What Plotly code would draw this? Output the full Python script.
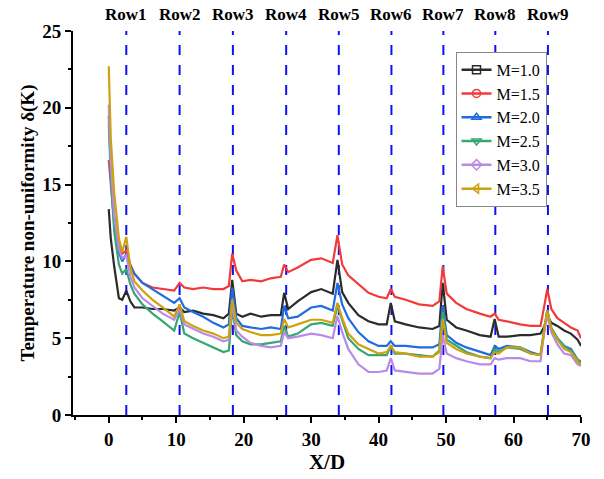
import plotly.graph_objects as go

# X/D sample positions (shared by all series)
x_pos = [0, 0.3, 0.8, 1.5, 2.0, 2.6, 3.2, 3.8, 5, 6.5, 8, 9.7, 10.5, 11.2, 12.5, 14, 15.5, 17,
         17.8, 18.3, 18.9, 19.8, 21, 22.6, 24, 25.5, 26.0, 26.6, 28, 30, 31.5, 33.2, 33.9, 34.6,
         35.5, 37, 38.5, 40, 41.2, 41.8, 42.4, 44, 46, 48, 49.0, 49.5, 50.1, 51.5, 53, 55, 56.6,
         57.2, 57.8, 59, 61, 62.5, 64, 64.6, 65.0, 65.6, 66.5, 67.5, 68.5, 69.5, 70]

m10 = [13.4, 11.5, 9.7, 7.6, 7.5, 8.1, 7.4, 7.0, 7.0, 6.9, 6.9, 6.8, 7.0, 6.7, 6.8, 6.6, 6.5, 6.3,
       6.6, 8.8, 6.6, 6.4, 6.6, 6.4, 6.5, 6.5, 7.95, 6.9, 7.4, 8.0, 8.2, 7.9, 10.1, 8.0,
       7.3, 6.5, 6.1, 5.9, 5.9, 7.3, 6.1, 5.9, 5.7, 5.6, 5.8, 8.6, 6.2, 5.7, 5.5, 5.2, 5.1,
       6.25, 5.1, 5.1, 5.2, 5.2, 5.3, 5.8, 6.46, 6.0, 5.8, 5.5, 5.3, 4.9, 4.5]
m15 = [16.6, 15.0, 12.5, 10.9, 10.5, 10.7, 9.8, 9.2, 8.6, 8.3, 8.2, 8.1, 8.6, 8.3, 8.2, 8.3, 8.2, 8.2,
       8.4, 10.5, 9.4, 8.7, 8.8, 8.7, 8.9, 9.0, 9.8, 9.3, 9.6, 10.1, 10.2, 9.9, 11.7, 9.8,
       9.1, 8.5, 7.95, 7.7, 7.6, 8.2, 7.7, 7.5, 7.2, 7.1, 7.4, 9.67, 7.9, 7.3, 6.9, 6.6, 6.4,
       6.6, 6.2, 6.1, 5.9, 5.8, 5.8, 7.2, 8.2, 6.9, 6.3, 6.0, 5.7, 5.5, 5.0]
m20 = [19.5, 16.0, 13.0, 10.6, 10.0, 10.5, 9.7, 9.2, 8.6, 8.2, 7.8, 7.3, 7.6, 7.0, 6.7, 6.4, 6.0, 5.7,
       5.9, 8.3, 6.3, 5.8, 5.7, 5.6, 5.7, 5.6, 7.1, 6.3, 6.4, 7.0, 7.1, 6.8, 8.6, 7.2,
       6.3, 5.4, 4.8, 4.5, 4.5, 4.8, 4.5, 4.5, 4.4, 4.4, 4.6, 7.1, 5.2, 4.7, 4.4, 4.1, 3.9,
       4.5, 4.3, 4.5, 4.4, 4.1, 3.9, 5.6, 6.8, 5.6, 5.0, 4.5, 4.3, 3.6, 3.4]
m25 = [19.0, 15.5, 12.0, 9.8, 9.2, 9.5, 8.5, 7.9, 7.2, 6.6, 6.1, 5.5, 6.7, 5.3, 5.0, 4.7, 4.4, 4.1,
       4.2, 6.9, 5.2, 4.8, 4.6, 4.6, 4.7, 4.8, 5.8, 5.1, 5.3, 5.9, 6.0, 5.8, 7.1, 6.2,
       5.0, 4.3, 3.9, 3.9, 3.9, 4.5, 4.0, 4.0, 3.9, 3.8, 4.2, 6.7, 4.9, 4.5, 4.1, 3.8, 3.7,
       4.3, 4.1, 4.4, 4.3, 4.0, 3.9, 5.8, 6.8, 5.7, 5.0, 4.5, 4.2, 3.6, 3.5]
m30 = [20.2, 16.5, 13.0, 10.8, 10.2, 10.4, 9.0, 8.3, 7.6, 7.1, 6.6, 6.2, 6.9, 5.9, 5.6, 5.3, 5.1, 4.8,
       4.9, 7.3, 5.5, 5.1, 4.7, 4.5, 4.4, 4.5, 5.4, 5.0, 5.1, 5.3, 5.2, 5.0, 6.46, 5.4,
       4.3, 3.3, 2.8, 2.8, 2.9, 3.7, 2.9, 2.8, 2.7, 2.7, 3.0, 5.2, 4.0, 3.7, 3.5, 3.3, 3.3,
       3.7, 3.6, 3.7, 3.7, 3.5, 3.5, 5.6, 6.46, 5.4, 4.6, 4.0, 3.9, 3.3, 3.2]
m35 = [22.7, 18.0, 14.5, 11.5, 10.6, 11.6, 9.6, 8.7, 8.1, 7.5, 7.0, 6.4, 7.2, 6.1, 5.8, 5.5, 5.3, 5.0,
       5.1, 7.5, 6.0, 5.6, 5.4, 5.2, 5.2, 5.3, 6.25, 5.7, 5.9, 6.2, 6.2, 6.0, 7.3, 6.3,
       5.3, 4.6, 4.3, 4.0, 4.1, 4.5, 4.1, 4.0, 3.8, 3.8, 4.1, 6.25, 4.7, 4.3, 4.0, 3.8, 3.7,
       4.1, 4.0, 4.4, 4.4, 4.0, 3.9, 5.8, 6.8, 5.6, 4.9, 4.3, 4.1, 3.5, 3.2]

series_names = ["M=1.0", "M=1.5", "M=2.0", "M=2.5", "M=3.0", "M=3.5"]
series_vals = [m10, m15, m20, m25, m30, m35]
colors = ["#2b2b2b", "#f23a3a", "#1f6be0", "#36a673", "#b98be8", "#cfa010"]
symbols = ["square-open", "circle-open", "triangle-up-open", "triangle-down-open",
           "diamond-open", "triangle-left-open"]

row_x = [2.6, 10.5, 18.4, 26.3, 34.1, 41.9, 49.6, 57.3, 65.1]
row_labels = ["Row1", "Row2", "Row3", "Row4", "Row5", "Row6", "Row7", "Row8", "Row9"]

serif = "Liberation Serif"
fig = go.Figure()

# dashed row lines
for rx in row_x:
    fig.add_shape(type="line", xref="x", yref="y", x0=rx, x1=rx, y0=0, y1=25,
                  line=dict(color="#1010f0", width=2, dash="10px,10px"), layer="below")

for name, vals, c, s in zip(series_names, series_vals, colors, symbols):
    fig.add_trace(go.Scatter(x=x_pos, y=vals, mode="lines", name=name, legendgroup=name,
                             showlegend=False, line=dict(color=c, width=2.2)))
for name, c, s in zip(series_names, colors, symbols):
    fig.add_trace(go.Scatter(x=[None], y=[None], mode="lines+markers", name=name,
                             legendgroup=name, line=dict(color=c, width=2.5),
                             marker=dict(symbol=s, size=8, color=c, line=dict(width=1.5, color=c))))

for rx, lab in zip(row_x, row_labels):
    fig.add_annotation(x=rx, y=1, xref="x", yref="paper", yanchor="bottom", yshift=5,
                       text="<b>%s</b>" % lab, showarrow=False,
                       font=dict(family=serif, size=17, color="black"))

fig.update_layout(
    width=604, height=479,
    margin=dict(l=73, r=23, t=31, b=58),
    plot_bgcolor="white", paper_bgcolor="white",
    showlegend=True,
    legend=dict(x=0.753, y=0.946, xanchor="left", yanchor="top",
                bgcolor="white", bordercolor="#888888", borderwidth=1,
                font=dict(family=serif, size=16, color="black"),
                tracegroupgap=0, itemwidth=30),
    xaxis=dict(range=[-5.3, 70], tickmode="linear", tick0=0, dtick=10,
               showline=True, linecolor="black", linewidth=2, mirror=False,
               ticks="outside", ticklen=6, tickwidth=2, tickcolor="black",
               minor=dict(ticks="outside", ticklen=3, tickwidth=2, tickcolor="black", dtick=5, tick0=0),
               showgrid=False, zeroline=False,
               tickfont=dict(family=serif, size=19, color="black"),
               title=dict(text="<b>X/D</b>", font=dict(family=serif, size=21, color="black"), standoff=3)),
    yaxis=dict(range=[0, 25], tickmode="linear", tick0=0, dtick=5,
               showline=True, linecolor="black", linewidth=2, mirror=False,
               ticks="outside", ticklen=6, tickwidth=2, tickcolor="black",
               minor=dict(ticks="outside", ticklen=3, tickwidth=2, tickcolor="black", dtick=2.5, tick0=0),
               showgrid=False, zeroline=False,
               tickfont=dict(family=serif, size=19, color="black"),
               title=dict(text="<b>Temperature non-uniformity δ(K)</b>",
                          font=dict(family=serif, size=19, color="black"), standoff=3)),
)
fig.update_xaxes(tickprefix="<b>", ticksuffix="</b>")
fig.update_yaxes(tickprefix="<b>", ticksuffix="</b>")

fig.write_html("out.html")
